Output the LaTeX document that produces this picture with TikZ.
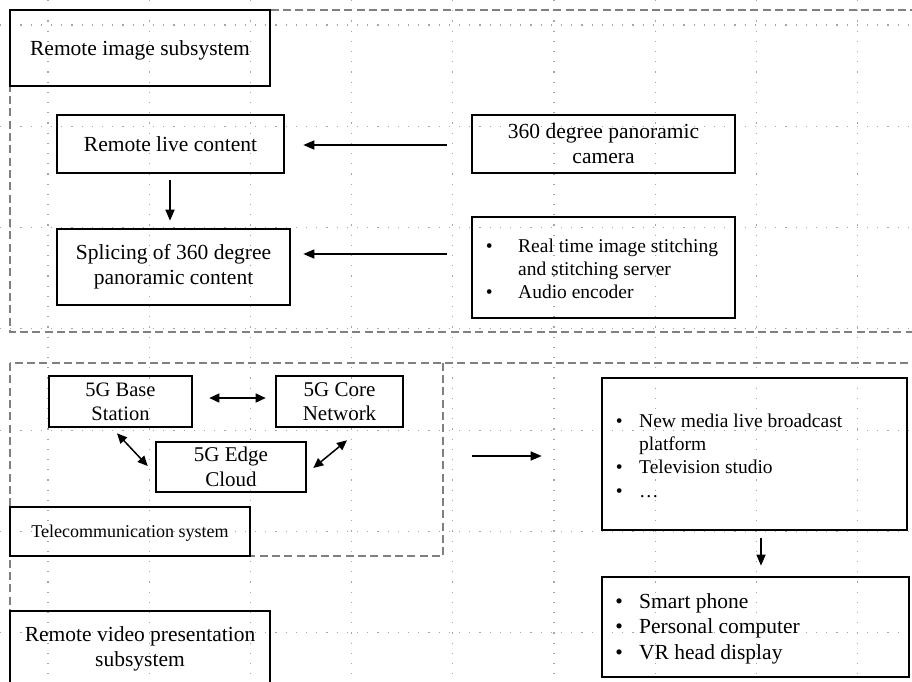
\documentclass[tikz,border=0pt]{standalone}
\usepackage{fontspec}
\setmainfont{Liberation Serif}
\usetikzlibrary{arrows.meta,calc}
\begin{document}
\begin{tikzpicture}[x=1pt,y=-1pt,
  box/.style={draw=black, line width=2.6pt, rectangle, inner sep=0pt, align=center,
    font=\fontsize{21.5}{25}\selectfont},
  oneline/.style={text depth=0pt},
  netbox/.style={box, font=\fontsize{21}{24.5}\selectfont},
  listtext/.style={inner sep=0pt, anchor=base west},
  grp/.style={draw=black!50, line width=2pt, dash pattern=on 8pt off 4.3pt},
  gridline/.style={draw=black!35, line width=1.1pt, dash pattern=on 1.1pt off 9.1pt},
  arr/.style={line width=1.5pt, -{Triangle[length=11pt,width=9pt]}},
  darr/.style={line width=1.5pt, {Triangle[length=10pt,width=9pt]}-{Triangle[length=10pt,width=9pt]}},
]
\useasboundingbox (0,0) rectangle (912,681);

% dotted background grid
\foreach \gx in {0,...,8}
  \draw[gridline] ({48+101.2*\gx},0) -- ({48+101.2*\gx},681);
\foreach \gy in {0,...,6}
  \draw[gridline] (0,{25+101.3*\gy}) -- (912,{25+101.3*\gy});

% dashed subsystem frames
\draw[grp] (10,10) rectangle (960,332);
\draw[grp] (10,363) rectangle (960,760);
\node[minimum width=433pt, minimum height=193pt, inner sep=0pt] (tel) at (226.5,459.5) {};
\draw[grp] (tel.north east) -- (tel.south east) -- (tel.south west);

% remote image subsystem
\node[box, oneline, minimum width=260pt, minimum height=76pt] (rimg) at (140,48) {Remote image subsystem};
\node[box, oneline, minimum width=227pt, minimum height=58pt] (live) at (170.5,144) {Remote live content};
\node[box, minimum width=233pt, minimum height=76pt] (splice) at (173.5,267) {Splicing of 360 degree\\panoramic content};
\node[box, minimum width=263pt, minimum height=58pt] (cam) at (603.5,144) {360 degree panoramic\\camera};
\node[box, minimum width=263pt, minimum height=101pt] (stitch) at (603.5,267.5) {};
\node[listtext, font=\fontsize{19.5}{23.2}\selectfont] (stitchlist) at (485.6,252)
  {\begin{tabular}[t]{@{}l@{}l@{}}\makebox[32.4pt][l]{\textbullet} & Real time image stitching\\
   & and stitching server\\ \makebox[32.4pt][l]{\textbullet} & Audio encoder\end{tabular}};

\draw[arr] ($(cam.west)+(-24,1)$) -- ($(live.east)+(18,1)$);
\draw[arr] ($(stitch.west)+(-24,-13.5)$) -- ($(splice.east)+(12,-13)$);
\draw[arr] ($(live.south)+(-0.5,6)$) -- ($(live.south |- splice.north)+(-0.5,-7)$);

% telecommunication system
\node[netbox, minimum width=143pt, minimum height=51pt, font=\fontsize{20.5}{24}\selectfont] (base) at (120.5,401.5) {5G Base\\Station};
\node[netbox, minimum width=127pt, minimum height=51pt] (core) at (339.5,401.5) {5G Core\\Network};
\node[netbox, minimum width=150pt, minimum height=50pt] (edge) at (231,467) {5G Edge\\Cloud};
\node[box, oneline, minimum width=240pt, minimum height=49pt, font=\fontsize{18}{21}\selectfont] (telname) at (130,531.5) {Telecommunication system};

\draw[darr] ($(base.east)+(16,-3.5)$) -- ($(core.west)+(-9,-3.5)$);
\draw[darr] ($(base.south)+(-3.5,5)$) -- ($(edge.west)+(-7,-1)$);
\draw[darr] ($(core.south)+(7.5,12)$) -- ($(edge.east)+(6,1)$);

% remote video presentation subsystem
\node[box, minimum width=260pt, minimum height=76pt] (rvid) at (140,649) {Remote video presentation\\subsystem};
\node[box, minimum width=305pt, minimum height=152pt] (plat) at (754.5,454) {};
\node[listtext, font=\fontsize{19.5}{23.4}\selectfont] (platlist) at (615.6,427)
  {\begin{tabular}[t]{@{}l@{}l@{}}\makebox[23.4pt][l]{\textbullet} & New media live broadcast\\
   & platform\\ \makebox[23.4pt][l]{\textbullet} & Television studio\\
   \makebox[23.4pt][l]{\textbullet} & …\end{tabular}};
\node[box, minimum width=307pt, minimum height=100pt] (dev) at (755.5,627) {};
\node[listtext, font=\fontsize{21.5}{25.8}\selectfont] (devlist) at (615.2,608)
  {\begin{tabular}[t]{@{}l@{}l@{}}\makebox[23.8pt][l]{\textbullet} & Smart phone\\
   \makebox[23.8pt][l]{\textbullet} & Personal computer\\
   \makebox[23.8pt][l]{\textbullet} & VR head display\end{tabular}};

\draw[arr] ($(tel.east)+(29,-3.5)$) -- ($(plat.west)+(-59,2)$);
\draw[arr] ($(plat.south)+(6.5,7)$) -- ($(plat.south |- dev.north)+(6.5,-10)$);
\end{tikzpicture}
\end{document}
